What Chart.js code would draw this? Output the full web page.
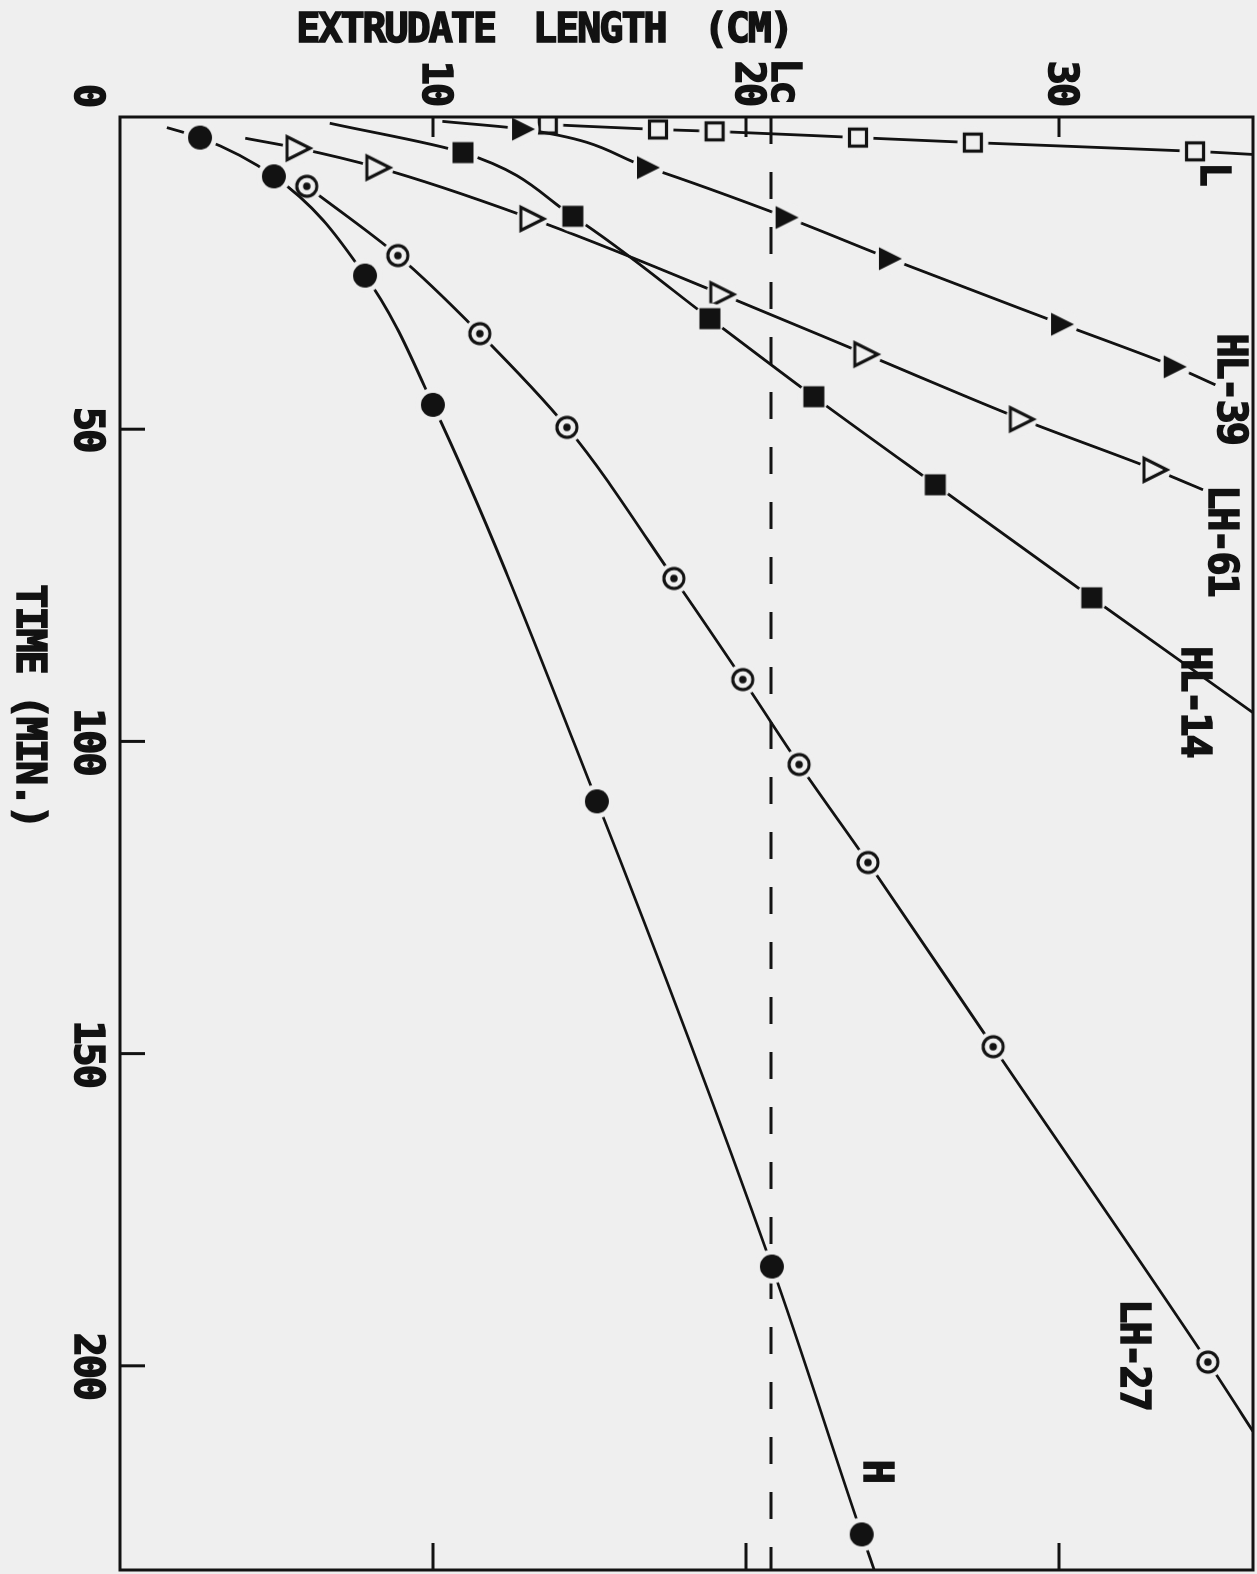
<!DOCTYPE html>
<html>
<head>
<meta charset="utf-8">
<title>Extrudate length vs time</title>
<script src="https://cdn.jsdelivr.net/npm/chart.js@4.4.0/dist/chart.umd.min.js"></script>
<style>
  html, body { margin: 0; padding: 0; background: #efefef; overflow: hidden; }
  /* the plot is drawn upright and turned a quarter turn, like the scanned sheet */
  #wrap { position: absolute; left: 0; top: 0; width: 1574px; height: 1257px;
          transform-origin: 0 0; transform: translate(1257px, 0) rotate(90deg); }
</style>
</head>
<body>
<div id="wrap"><canvas id="chart" width="1574" height="1257"></canvas></div>
<script>
const PAPER = '#efefef';
const INK = '#121212';
const FAMILY = '"DejaVu Sans Mono", monospace';

// time (min) and extrudate length (cm)
const hTime = [3.3, 9.5, 25.4, 46.1, 109.6, 184.1, 227.0];
const hLength = [2.56, 4.92, 7.83, 10.0, 15.24, 20.83, 23.7];
const lh27Time = [11.1, 22.2, 34.7, 49.7, 73.9, 90.1, 103.7, 119.4, 148.9, 199.4];
const lh27Length = [5.97, 8.88, 11.5, 14.28, 17.7, 19.9, 21.7, 23.9, 27.9, 34.76];
const hl14Time = [5.7, 15.9, 32.3, 44.8, 58.9, 77.0];
const hl14Length = [10.96, 14.47, 18.85, 22.17, 26.05, 31.05];
const lh61Time = [5.0, 8.1, 16.3, 28.4, 38.0, 48.4, 56.5];
const lh61Length = [5.69, 8.24, 13.16, 19.23, 23.83, 28.8, 33.07];
const hl39Time = [1.95, 8.1, 16.1, 22.7, 33.2, 40.0];
const hl39Length = [12.88, 16.87, 21.3, 24.6, 30.1, 33.7];
const lTime = [1.2, 2.0, 2.3, 3.3, 4.1, 5.5];
const lLength = [13.67, 17.19, 19.0, 23.58, 27.25, 34.35];

// where each drawn curve begins / runs off the frame: [time, length]
const hEnds = [[1.7, 1.5], [232.7, 24.1]];
const lh27Ends = [null, [210.5, 36.2]];
const hl14Ends = [[1.0, 6.7], [95.4, 36.2]];
const lh61Ends = [[3.4, 4.0], [59.7, 34.6]];
const hl39Ends = [[0.7, 10.3], [42.9, 35.0]];
const lEnds = [null, [6.0, 36.2]];

const timeTicks = [0, 50, 100, 150, 200];
const lengthTicks = [10, 20, 30];
const TIME_MAX = 232.7;
const LENGTH_MAX = 36.2;
const LC = 20.8;

// curve names written beside the curves: [text, time, length]
const curveNames = [
  ['L', 9.05, 34.86],
  ['HL-39', 43.5, 35.4],
  ['LH-61', 67.8, 35.14],
  ['HL-14', 93.6, 34.25],
  ['LH-27', 198.2, 32.3],
  ['H', 216.8, 24.1],
  ['Lc', -5.85, 21.15]
];

function marker(kind) {
  const c = document.createElement('canvas');
  c.width = c.height = 40;
  const g = c.getContext('2d');
  g.translate(20, 20);
  // clear a little gap round the mark, as on the drawing
  g.fillStyle = PAPER;
  g.beginPath();
  g.arc(0, 0, kind === 'dot' ? 17 : 15.5, 0, Math.PI * 2);
  g.fill();
  g.fillStyle = INK;
  g.strokeStyle = INK;
  g.lineWidth = 3.2;
  g.lineJoin = 'miter';
  if (kind === 'dot') {
    g.beginPath(); g.arc(0, 0, 12, 0, Math.PI * 2); g.fill();
  } else if (kind === 'ringdot') {
    g.beginPath(); g.arc(0, 0, 10, 0, Math.PI * 2); g.stroke();
    g.beginPath(); g.arc(0, 0, 3.8, 0, Math.PI * 2); g.fill();
  } else if (kind === 'fsquare') {
    g.fillRect(-10.5, -10.5, 21, 21);
  } else if (kind === 'osquare') {
    g.strokeRect(-8.5, -8.5, 17, 17);
  } else {
    g.beginPath();
    g.moveTo(0, -12); g.lineTo(11.5, 11); g.lineTo(-11.5, 11); g.closePath();
    if (kind === 'ftri') g.fill(); else g.stroke();
  }
  return c;
}

function series(label, time, length, ends, kind) {
  const pts = time.map((t, i) => ({ x: t, y: length[i] }));
  const lead = ends[0], tail = ends[1];
  if (lead) pts.unshift({ x: lead[0], y: lead[1] });
  if (tail) pts.push({ x: tail[0], y: tail[1] });
  return {
    label: label,
    data: pts,
    borderColor: INK,
    borderWidth: 2.8,
    cubicInterpolationMode: 'monotone',
    fill: false,
    pointStyle: marker(kind),
    pointRadius: ctx => ((lead && ctx.dataIndex === 0) ||
                         (tail && ctx.dataIndex === pts.length - 1)) ? 0 : 12
  };
}

// keep the plot box where the sheet has it: no extra room for end labels
function fixBox(size) {
  return s => {
    if (s.isHorizontal()) s.height = size; else s.width = size;
    s.paddingTop = s.paddingBottom = s.paddingLeft = s.paddingRight = 0;
  };
}

const spacing = {
  id: 'spacing',
  beforeDraw(chart) { chart.ctx.letterSpacing = '-2px'; }
};

const frame = {
  id: 'frame',
  afterDatasetsDraw(chart) {
    const { ctx, chartArea: a, scales } = chart;
    ctx.save();
    ctx.strokeStyle = INK;
    ctx.lineWidth = 3;
    ctx.strokeRect(a.left, a.top, a.right - a.left, a.bottom - a.top);
    ctx.beginPath();
    lengthTicks.forEach(v => {
      const p = scales.y.getPixelForValue(v);
      ctx.moveTo(a.left, p); ctx.lineTo(a.left + 20, p);
      ctx.moveTo(a.right, p); ctx.lineTo(a.right - 27, p);
    });
    timeTicks.forEach(v => {
      if (v === 0) return;
      const p = scales.x.getPixelForValue(v);
      ctx.moveTo(p, a.bottom); ctx.lineTo(p, a.bottom - 25);
    });
    ctx.stroke();
    ctx.restore();
  }
};

function inkText(ctx, text, x, y) {
  ctx.fillText(text, x, y);
  ctx.strokeText(text, x, y);
}

const notes = {
  id: 'notes',
  afterDraw(chart) {
    const { ctx, chartArea: a, scales } = chart;
    ctx.save();
    ctx.fillStyle = INK;
    ctx.strokeStyle = INK;
    ctx.lineWidth = 1.6;
    ctx.font = 'bold 40px ' + FAMILY;
    ctx.letterSpacing = '-2px';
    ctx.textAlign = 'center';
    ctx.textBaseline = 'middle';
    curveNames.forEach(n => {
      inkText(ctx, n[0], scales.x.getPixelForValue(n[1]), scales.y.getPixelForValue(n[2]));
    });
    inkText(ctx, 'TIME (MIN.)', scales.x.getPixelForValue(94.3), scales.y.getPixelForValue(-2.97));
    ctx.wordSpacing = '16px';
    ctx.translate(a.left - 85, scales.y.getPixelForValue(13.55));
    ctx.rotate(-Math.PI / 2);
    inkText(ctx, 'EXTRUDATE LENGTH (CM)', 0, 0);
    ctx.restore();
  }
};

const tickFont = { family: FAMILY, size: 40, weight: 'bold' };

new Chart(document.getElementById('chart'), {
  type: 'line',
  data: {
    datasets: [
      series('H', hTime, hLength, hEnds, 'dot'),
      series('LH-27', lh27Time, lh27Length, lh27Ends, 'ringdot'),
      series('HL-14', hl14Time, hl14Length, hl14Ends, 'fsquare'),
      series('LH-61', lh61Time, lh61Length, lh61Ends, 'otri'),
      series('HL-39', hl39Time, hl39Length, hl39Ends, 'ftri'),
      series('L', lTime, lLength, lEnds, 'osquare'),
      {
        label: 'Lc',
        data: [{ x: 0, y: LC }, { x: TIME_MAX, y: LC }],
        borderColor: INK,
        borderWidth: 3,
        borderDash: [27, 28],
        pointRadius: 0
      }
    ]
  },
  options: {
    responsive: false,
    animation: false,
    devicePixelRatio: 1,
    events: [],
    layout: { autoPadding: false, padding: { left: 0, top: 4, right: 4, bottom: 0 } },
    plugins: { legend: { display: false }, tooltip: { enabled: false } },
    scales: {
      x: {
        type: 'linear',
        position: 'bottom',
        min: 0,
        max: TIME_MAX,
        grid: { display: false, drawTicks: false },
        border: { display: false },
        afterBuildTicks: s => { s.ticks = timeTicks.map(v => ({ value: v })); },
        afterFit: fixBox(120),
        ticks: {
          color: INK, font: tickFont, padding: 11, maxRotation: 0, minRotation: 0, autoSkip: false,
          textStrokeColor: INK, textStrokeWidth: 1.6,
          callback: v => v === 0 ? '0  ' : String(v)
        }
      },
      y: {
        type: 'linear',
        min: 0,
        max: LENGTH_MAX,
        grid: { display: false, drawTicks: false },
        border: { display: false },
        afterBuildTicks: s => { s.ticks = lengthTicks.map(v => ({ value: v })); },
        afterFit: fixBox(117),
        ticks: {
          color: INK, font: tickFont, padding: 12, autoSkip: false,
          textStrokeColor: INK, textStrokeWidth: 1.6
        }
      }
    }
  },
  plugins: [spacing, frame, notes]
});
</script>
</body>
</html>
